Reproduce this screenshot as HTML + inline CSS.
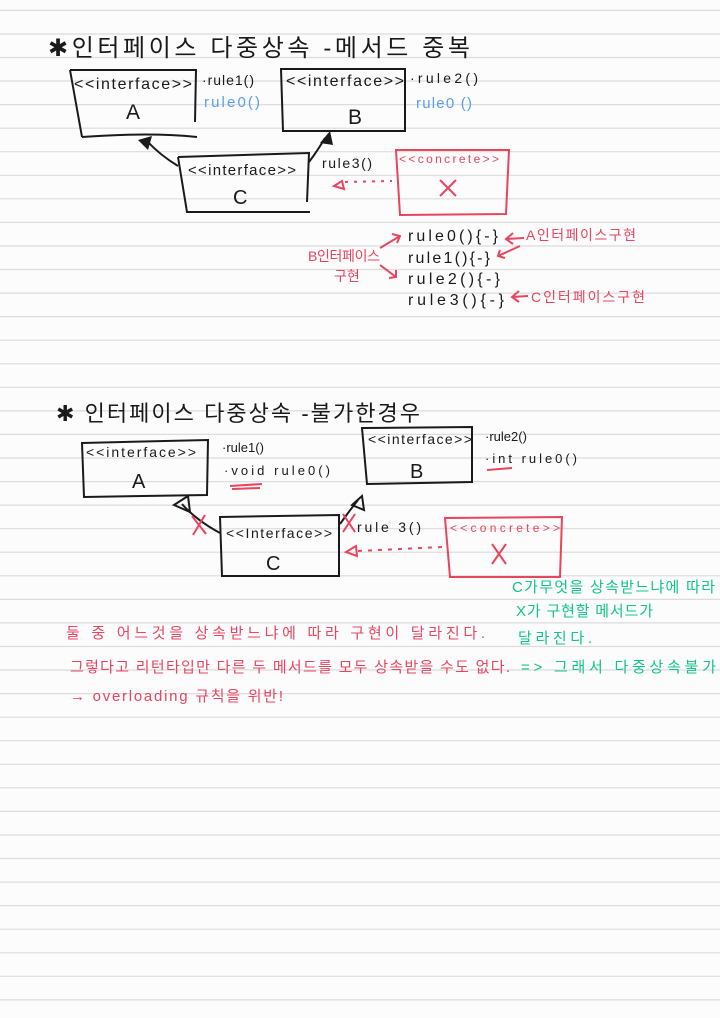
<!DOCTYPE html>
<html><head><meta charset="utf-8"><style>
html,body{margin:0;padding:0;background:#fcfcfc}
svg{display:block}
text{font-family:"Liberation Sans","Noto Sans CJK KR",sans-serif}
</style></head><body>
<svg width="720" height="1018" viewBox="0 0 720 1018" xmlns="http://www.w3.org/2000/svg">
<rect width="720" height="1018" fill="#fcfcfc"/>
<g stroke="#dcdcdc" stroke-width="1.2">
<line x1="0" x2="720" y1="10.4" y2="10.4"/><line x1="0" x2="720" y1="34" y2="34"/><line x1="0" x2="720" y1="57.5" y2="57.5"/><line x1="0" x2="720" y1="81" y2="81"/><line x1="0" x2="720" y1="104.6" y2="104.6"/><line x1="0" x2="720" y1="128.2" y2="128.2"/><line x1="0" x2="720" y1="151.7" y2="151.7"/><line x1="0" x2="720" y1="175.3" y2="175.3"/><line x1="0" x2="720" y1="198.8" y2="198.8"/><line x1="0" x2="720" y1="222.4" y2="222.4"/><line x1="0" x2="720" y1="246" y2="246"/><line x1="0" x2="720" y1="269.5" y2="269.5"/><line x1="0" x2="720" y1="293.1" y2="293.1"/><line x1="0" x2="720" y1="316.6" y2="316.6"/><line x1="0" x2="720" y1="340.2" y2="340.2"/><line x1="0" x2="720" y1="363.8" y2="363.8"/><line x1="0" x2="720" y1="387.3" y2="387.3"/><line x1="0" x2="720" y1="410.9" y2="410.9"/><line x1="0" x2="720" y1="434.4" y2="434.4"/><line x1="0" x2="720" y1="458" y2="458"/><line x1="0" x2="720" y1="481.6" y2="481.6"/><line x1="0" x2="720" y1="505.1" y2="505.1"/><line x1="0" x2="720" y1="528.7" y2="528.7"/><line x1="0" x2="720" y1="552.2" y2="552.2"/><line x1="0" x2="720" y1="575.8" y2="575.8"/><line x1="0" x2="720" y1="599.4" y2="599.4"/><line x1="0" x2="720" y1="622.9" y2="622.9"/><line x1="0" x2="720" y1="646.5" y2="646.5"/><line x1="0" x2="720" y1="670" y2="670"/><line x1="0" x2="720" y1="693.6" y2="693.6"/><line x1="0" x2="720" y1="717.2" y2="717.2"/><line x1="0" x2="720" y1="740.7" y2="740.7"/><line x1="0" x2="720" y1="764.3" y2="764.3"/><line x1="0" x2="720" y1="787.8" y2="787.8"/><line x1="0" x2="720" y1="811.4" y2="811.4"/><line x1="0" x2="720" y1="835" y2="835"/><line x1="0" x2="720" y1="858.5" y2="858.5"/><line x1="0" x2="720" y1="882.1" y2="882.1"/><line x1="0" x2="720" y1="905.6" y2="905.6"/><line x1="0" x2="720" y1="929.2" y2="929.2"/><line x1="0" x2="720" y1="952.8" y2="952.8"/><line x1="0" x2="720" y1="976.3" y2="976.3"/><line x1="0" x2="720" y1="999.9" y2="999.9"/>
</g>

<!-- Section 1 -->
<text x="48" y="56" font-size="24" fill="#1a1a1a" textLength="422" lengthAdjust="spacing">✱인터페이스  다중상속 -메서드 중복</text>
<g fill="none" stroke="#1a1a1a" stroke-width="2">
<path d="M70 70 L196 70 L195 122 M70 70 L82 137 M82 137 Q150 132 197 137"/>
<path d="M281 69 L405 69 L405 131 L283 131 Z"/>
<path d="M178 157 L309 153 L307 202 M178 157 L187 212 L310 212"/>
<path d="M178 166 Q160 155 148 142"/>
<path d="M309 162 Q318 150 325 138"/>
</g>
<path d="M138 140 L152 136 L148 150 Z" fill="#1a1a1a"/>
<path d="M320 143 L330 131 L333 145 Z" fill="#1a1a1a"/>
<text x="74" y="89" font-size="16" fill="#1a1a1a" textLength="118" lengthAdjust="spacing">&lt;&lt;interface&gt;&gt;</text>
<text x="126" y="119" font-size="21" fill="#1a1a1a">A</text>
<text x="202" y="85" font-size="14" fill="#1a1a1a" textLength="52" lengthAdjust="spacing">·rule1()</text>
<text x="204" y="107" font-size="15" fill="#5aa0e8" textLength="56" lengthAdjust="spacing">rule0()</text>
<text x="286" y="86" font-size="16" fill="#1a1a1a" textLength="118" lengthAdjust="spacing">&lt;&lt;interface&gt;&gt;</text>
<text x="348" y="124" font-size="21" fill="#1a1a1a">B</text>
<text x="410" y="83" font-size="14" fill="#1a1a1a" textLength="68" lengthAdjust="spacing">·rule2()</text>
<text x="416" y="108" font-size="15" fill="#5aa0e8" textLength="56" lengthAdjust="spacing">rule0 ()</text>
<text x="188" y="175" font-size="15" fill="#1a1a1a" textLength="108" lengthAdjust="spacing">&lt;&lt;interface&gt;&gt;</text>
<text x="233" y="204" font-size="20" fill="#1a1a1a">C</text>
<text x="322" y="168" font-size="14" fill="#1a1a1a" textLength="50" lengthAdjust="spacing">rule3()</text>
<g fill="none" stroke="#e8455f" stroke-width="2">
<path d="M396 150 L509 150 L506 214 L400 215 Z"/>
<path d="M440 180 L456 196 M456 180 L440 196"/>
<path d="M345 182 L392 181" stroke-dasharray="3,6"/>
<path d="M342 181 L334 186 L344 189 Z"/>
<path d="M380 248 L400 236 M392 234 L400 236 L397 243"/>
<path d="M380 265 L396 277 M389 278 L396 277 L396 270"/>
<path d="M524 238 L506 239 M513 233 L506 239 L513 244"/>
<path d="M520 246 L498 256 M500 250 L498 256 L505 258"/>
<path d="M528 296 L512 297 M519 291 L512 297 L519 302"/>
</g>
<text x="399" y="163" font-size="12" fill="#e8455f" textLength="100" lengthAdjust="spacing">&lt;&lt;concrete&gt;&gt;</text>
<g font-size="16" fill="#1a1a1a">
<text x="408" y="241" textLength="90" lengthAdjust="spacing">rule0(){-}</text>
<text x="408" y="263" textLength="82" lengthAdjust="spacing">rule1(){-}</text>
<text x="408" y="284" textLength="92" lengthAdjust="spacing">rule2(){-}</text>
<text x="408" y="305" textLength="96" lengthAdjust="spacing">rule3(){-}</text>
</g>
<g font-size="14" fill="#e8455f">
<text x="526" y="240" textLength="110" lengthAdjust="spacing">A인터페이스구현</text>
<text x="308" y="261" textLength="72" lengthAdjust="spacing">B인터페이스</text>
<text x="334" y="281">구현</text>
<text x="531" y="302" textLength="114" lengthAdjust="spacing">C인터페이스구현</text>
</g>

<!-- Section 2 -->
<text x="56" y="421" font-size="22" fill="#1a1a1a" textLength="364" lengthAdjust="spacing">✱ 인터페이스  다중상속 -불가한경우</text>
<g fill="none" stroke="#1a1a1a" stroke-width="2">
<path d="M82 443 L208 440 L207 495 L84 497 Z"/>
<path d="M362 428 L472 427 L472 482 L367 484 Z"/>
<path d="M220 517 L339 515 L339 576 L222 576 Z"/>
<path d="M220 533 Q196 520 182 504"/>
<path d="M174 505 L188 496 L190 512 Z"/>
<path d="M340 524 Q350 510 358 500"/>
<path d="M352 505 L362 496 L364 510 Z"/>
</g>
<text x="86" y="457" font-size="14" fill="#1a1a1a" textLength="110" lengthAdjust="spacing">&lt;&lt;interface&gt;&gt;</text>
<text x="132" y="488" font-size="20" fill="#1a1a1a">A</text>
<text x="222" y="452" font-size="13" fill="#1a1a1a">·rule1()</text>
<text x="224" y="475" font-size="13" fill="#1a1a1a" textLength="106" lengthAdjust="spacing">·void rule0()</text>
<text x="368" y="444" font-size="14" fill="#1a1a1a" textLength="104" lengthAdjust="spacing">&lt;&lt;interface&gt;&gt;</text>
<text x="410" y="478" font-size="20" fill="#1a1a1a">B</text>
<text x="485" y="441" font-size="13" fill="#1a1a1a">·rule2()</text>
<text x="485" y="463" font-size="13" fill="#1a1a1a" textLength="92" lengthAdjust="spacing">·int rule0()</text>
<text x="226" y="538" font-size="14" fill="#1a1a1a" textLength="106" lengthAdjust="spacing">&lt;&lt;Interface&gt;&gt;</text>
<text x="266" y="570" font-size="20" fill="#1a1a1a">C</text>
<text x="357" y="532" font-size="14" fill="#1a1a1a" textLength="64" lengthAdjust="spacing">rule 3()</text>
<g fill="none" stroke="#e8455f" stroke-width="2">
<path d="M230 486 L262 484 M232 489 L260 488"/>
<path d="M487 470 L512 468"/>
<path d="M192 516 L206 534 M205 515 L193 535"/>
<path d="M343 514 L355 532 M355 514 L343 532"/>
<path d="M445 518 L562 517 L560 577 L450 577 Z"/>
<path d="M492 544 L506 564 M506 544 L492 564"/>
<path d="M358 551 L442 547" stroke-dasharray="4,6"/>
<path d="M356 546 L346 552 L357 556 Z"/>
</g>
<text x="450" y="532" font-size="12" fill="#e8455f" textLength="110" lengthAdjust="spacing">&lt;&lt;concrete&gt;&gt;</text>
<g font-size="15" fill="#10c48a">
<text x="512" y="592" textLength="203" lengthAdjust="spacing">C가무엇을 상속받느냐에 따라</text>
<text x="516" y="616" textLength="137" lengthAdjust="spacing">X가 구현할 메서드가</text>
<text x="518" y="643" textLength="74" lengthAdjust="spacing">달라진다.</text>
<text x="521" y="672" textLength="195" lengthAdjust="spacing">=&gt; 그래서 다중상속불가</text>
</g>
<g font-size="15" fill="#e8455f">
<text x="66" y="638" textLength="419" lengthAdjust="spacing">둘 중  어느것을 상속받느냐에  따라 구현이 달라진다.</text>
<text x="70" y="672" textLength="440" lengthAdjust="spacing">그렇다고 리턴타입만 다른 두 메서드를 모두 상속받을 수도 없다.</text>
<text x="70" y="701" textLength="213" lengthAdjust="spacing">→ overloading 규칙을 위반!</text>
</g>
</svg>
</body></html>
